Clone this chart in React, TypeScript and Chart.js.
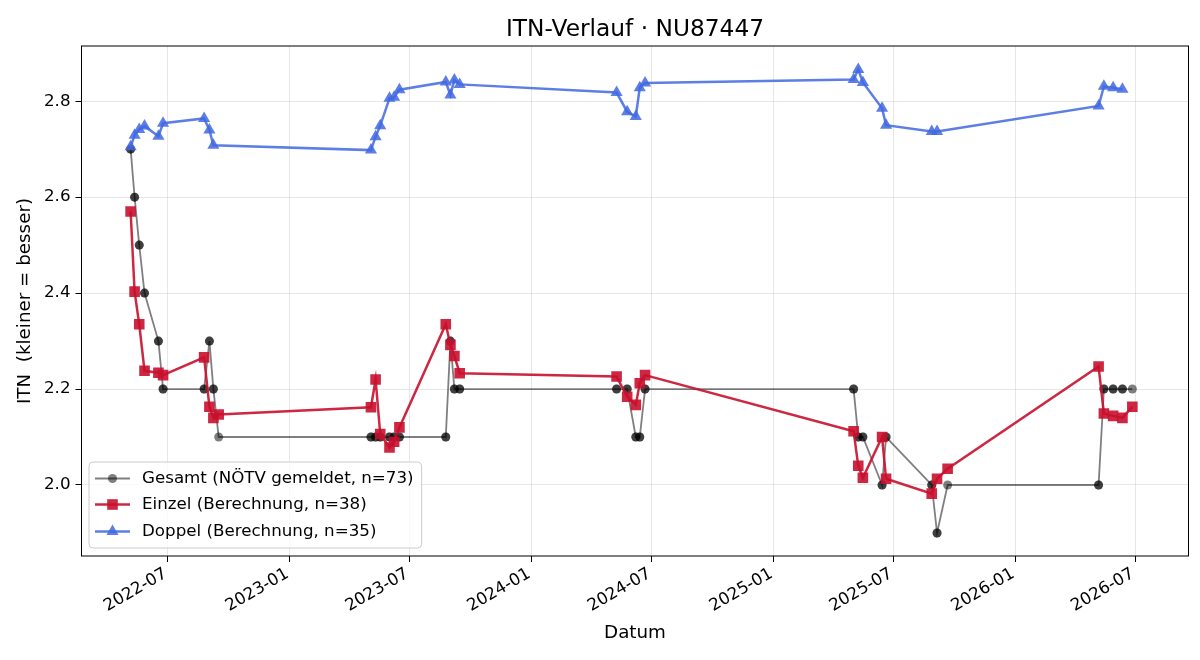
import React, { useEffect, useRef } from 'react';
import { Chart, registerables } from 'chart.js';

Chart.register(...registerables);

// ---------- data ----------
const einzelDates = [
  '2022-05-06', '2022-05-12', '2022-05-19', '2022-05-27', '2022-06-17', '2022-06-24',
  '2022-08-25', '2022-09-02', '2022-09-08', '2022-09-16',
  '2023-05-04', '2023-05-11', '2023-05-18', '2023-06-01', '2023-06-08', '2023-06-16',
  '2023-08-25', '2023-09-01', '2023-09-07', '2023-09-15',
  '2024-05-09', '2024-05-25', '2024-06-07', '2024-06-13', '2024-06-21',
  '2025-05-02', '2025-05-09', '2025-05-16', '2025-06-14', '2025-06-20',
  '2025-08-28', '2025-09-05', '2025-09-21',
  '2026-05-07', '2026-05-15', '2026-05-29', '2026-06-12', '2026-06-27',
];
const einzelValues = [
  2.570, 2.403, 2.335, 2.238, 2.234, 2.229,
  2.266, 2.163, 2.140, 2.147,
  2.162, 2.220, 2.106, 2.078, 2.090, 2.120,
  2.335, 2.292, 2.269, 2.233,
  2.226, 2.184, 2.167, 2.212, 2.229,
  2.112, 2.040, 2.015, 2.100, 2.013,
  1.982, 2.013, 2.034,
  2.247, 2.149, 2.144, 2.140, 2.163,
];

const doppelDates = [
  '2022-05-06', '2022-05-12', '2022-05-19', '2022-05-27', '2022-06-17', '2022-06-24',
  '2022-08-25', '2022-09-02', '2022-09-08',
  '2023-05-04', '2023-05-11', '2023-05-18', '2023-06-01', '2023-06-08', '2023-06-16',
  '2023-08-25', '2023-09-01', '2023-09-07', '2023-09-15',
  '2024-05-09', '2024-05-25', '2024-06-07', '2024-06-13', '2024-06-21',
  '2025-05-02', '2025-05-09', '2025-05-16', '2025-06-14', '2025-06-20',
  '2025-08-28', '2025-09-05',
  '2026-05-07', '2026-05-15', '2026-05-29', '2026-06-12',
];
const doppelValues = [
  2.705, 2.729, 2.741, 2.748, 2.727, 2.754,
  2.764, 2.740, 2.708,
  2.698, 2.726, 2.749, 2.806, 2.808, 2.824,
  2.840, 2.813, 2.844, 2.835,
  2.818, 2.778, 2.768, 2.828, 2.838,
  2.845, 2.866, 2.839, 2.785, 2.750,
  2.737, 2.737,
  2.790, 2.831, 2.828, 2.825,
];

// reported (NÖTV) ITN per match date
const gesamtDates = [
  '2022-05-06', '2022-05-12', '2022-05-19', '2022-05-27', '2022-06-17', '2022-06-24',
  '2022-08-25', '2022-09-02', '2022-09-08', '2022-09-16',
  '2023-05-04', '2023-05-11', '2023-05-18', '2023-06-01', '2023-06-08', '2023-06-16',
  '2023-08-25', '2023-09-01', '2023-09-07', '2023-09-15',
  '2024-05-09', '2024-05-25', '2024-06-07', '2024-06-13', '2024-06-21',
  '2025-05-02', '2025-05-09', '2025-05-16', '2025-06-14', '2025-06-20',
  '2025-08-28', '2025-09-05', '2025-09-21',
  '2026-05-07', '2026-05-15', '2026-05-29', '2026-06-12', '2026-06-27',
];
const gesamtValues = [
  2.7, 2.6, 2.5, 2.4, 2.3, 2.2,
  2.2, 2.3, 2.2, 2.1,
  2.1, 2.1, 2.1, 2.1, 2.1, 2.1,
  2.1, 2.3, 2.2, 2.2,
  2.2, 2.2, 2.1, 2.1, 2.2,
  2.2, 2.1, 2.1, 2.0, 2.1,
  2.0, 1.9, 2.0,
  2.0, 2.2, 2.2, 2.2, 2.2,
];

const xTickDates = [
  '2022-07-01', '2023-01-01', '2023-07-01', '2024-01-01', '2024-07-01',
  '2025-01-01', '2025-07-01', '2026-01-01', '2026-07-01',
];
const yTickValues = [2.0, 2.2, 2.4, 2.6, 2.8];

const seriesLabels = [
  'Gesamt (NÖTV gemeldet, n=73)',
  'Einzel (Berechnung, n=38)',
  'Doppel (Berechnung, n=35)',
];
const titleText = 'ITN-Verlauf · NU87447';
const xTitle = 'Datum';
const yTitle = 'ITN  (kleiner = besser)';

// ---------- helpers ----------
const DAY = 86400000;
const t = (d: string) => Date.parse(d + 'T00:00:00Z');
const fmtMonth = (v: number) => {
  const d = new Date(v);
  return d.getUTCFullYear() + '-' + String(d.getUTCMonth() + 1).padStart(2, '0');
};

const X_MIN = t('2022-07-01') - 130.2 * DAY;
const X_MAX = t('2026-07-01') + 80.8 * DAY;
const Y_MIN = 1.852;
const Y_MAX = 2.915;

const FONT = '"DejaVu Sans", "Liberation Sans", sans-serif';
const TICK_SIZE = 16.7;
const LABEL_SIZE = 18.3;
const TITLE_SIZE = 23.3;

const GRAY = 'rgba(0,0,0,0.5)';
const RED = 'rgba(200,16,46,0.9)';
const BLUE = 'rgba(65,105,225,0.85)';
const TRI_R = 7;

const einzelPoints = einzelDates.map((d, i) => ({ x: t(d), y: einzelValues[i] }));
const doppelPoints = doppelDates.map((d, i) => ({ x: t(d), y: doppelValues[i] }));
// one reported value per played match (Einzel + Doppel) -> 73 entries
const gesamtPoints = [...einzelDates, ...doppelDates]
  .slice()
  .sort()
  .map((d) => ({ x: t(d), y: gesamtValues[gesamtDates.indexOf(d)] }));

const decorPlugin = {
  id: 'decor',
  afterDraw(chart: any) {
    const { ctx, chartArea: a } = chart;
    ctx.save();
    // frame (all four spines)
    ctx.strokeStyle = '#000';
    ctx.lineWidth = 1;
    ctx.strokeRect(a.left, a.top, a.right - a.left, a.bottom - a.top);

    // title
    ctx.fillStyle = '#000';
    ctx.textAlign = 'center';
    ctx.textBaseline = 'alphabetic';
    ctx.font = `${TITLE_SIZE}px ${FONT}`;
    ctx.fillText(titleText, (a.left + a.right) / 2, a.top - 10);

    // axis titles
    ctx.font = `${LABEL_SIZE}px ${FONT}`;
    ctx.textBaseline = 'middle';
    ctx.fillText(xTitle, (a.left + a.right) / 2, 633);
    ctx.save();
    ctx.translate(25, (a.top + a.bottom) / 2);
    ctx.rotate(-Math.PI / 2);
    ctx.fillText(yTitle, 0, 0);
    ctx.restore();

    // legend
    ctx.font = `${TICK_SIZE}px ${FONT}`;
    const maxW = Math.max(...seriesLabels.map((s) => ctx.measureText(s).width));
    const bx = 89, by = 462, bh = 86;
    const textX = 142;
    const bw = textX - bx + maxW + 8;
    const r = 4;
    ctx.beginPath();
    ctx.moveTo(bx + r, by);
    ctx.lineTo(bx + bw - r, by);
    ctx.arcTo(bx + bw, by, bx + bw, by + r, r);
    ctx.lineTo(bx + bw, by + bh - r);
    ctx.arcTo(bx + bw, by + bh, bx + bw - r, by + bh, r);
    ctx.lineTo(bx + r, by + bh);
    ctx.arcTo(bx, by + bh, bx, by + bh - r, r);
    ctx.lineTo(bx, by + r);
    ctx.arcTo(bx, by, bx + r, by, r);
    ctx.closePath();
    ctx.fillStyle = 'rgba(255,255,255,0.8)';
    ctx.fill();
    ctx.strokeStyle = '#cccccc';
    ctx.lineWidth = 1;
    ctx.stroke();

    const rows = [by + 16.5, by + 42.5, by + 69.5];
    const colors = [GRAY, RED, BLUE];
    const widths = [1.8, 2.5, 2.5];
    const x0 = 95, x1 = 130, xm = 112.5;
    rows.forEach((yy, i) => {
      ctx.strokeStyle = colors[i];
      ctx.lineWidth = widths[i];
      ctx.beginPath();
      ctx.moveTo(x0, yy);
      ctx.lineTo(x1, yy);
      ctx.stroke();
      ctx.fillStyle = colors[i];
      ctx.beginPath();
      if (i === 0) {
        ctx.arc(xm, yy, 4.5, 0, Math.PI * 2);
      } else if (i === 1) {
        const s = 7.5 * Math.SQRT1_2;
        ctx.rect(xm - s, yy - s, 2 * s, 2 * s);
      } else {
        const rr = TRI_R;
        ctx.moveTo(xm, yy - rr);
        ctx.lineTo(xm + Math.sin((2 * Math.PI) / 3) * rr, yy + rr / 2);
        ctx.lineTo(xm - Math.sin((2 * Math.PI) / 3) * rr, yy + rr / 2);
        ctx.closePath();
      }
      ctx.fill();
      ctx.fillStyle = '#000';
      ctx.textAlign = 'left';
      ctx.textBaseline = 'middle';
      ctx.fillText(seriesLabels[i], textX, yy);
    });
    ctx.restore();
  },
};

export default function App() {
  const ref = useRef<HTMLCanvasElement | null>(null);

  useEffect(() => {
    document.body.style.margin = '0';
    const canvas = ref.current;
    if (!canvas) return;
    const chart = new Chart(canvas, {
      type: 'line',
      data: {
        datasets: [
          {
            label: seriesLabels[0],
            data: gesamtPoints,
            borderColor: GRAY,
            borderWidth: 1.8,
            pointStyle: 'circle',
            pointRadius: 4.5,
            pointBackgroundColor: GRAY,
            pointBorderWidth: 0,
            tension: 0,
            order: 3,
          },
          {
            label: seriesLabels[1],
            data: einzelPoints,
            borderColor: RED,
            borderWidth: 2.5,
            pointStyle: 'rect',
            pointRadius: 7.5,
            pointBackgroundColor: RED,
            pointBorderWidth: 0,
            tension: 0,
            order: 2,
          },
          {
            label: seriesLabels[2],
            data: doppelPoints,
            borderColor: BLUE,
            borderWidth: 2.5,
            pointStyle: 'triangle',
            pointRadius: TRI_R,
            pointBackgroundColor: BLUE,
            pointBorderWidth: 0,
            tension: 0,
            order: 1,
          },
        ],
      },
      options: {
        animation: false,
        responsive: false,
        events: [],
        layout: { padding: { top: 46, right: 11.5, left: 0, bottom: 0 } },
        plugins: {
          legend: { display: false },
          tooltip: { enabled: false },
          title: { display: false },
        },
        scales: {
          x: {
            type: 'linear',
            min: X_MIN,
            max: X_MAX,
            afterBuildTicks: (s: any) => {
              s.ticks = xTickDates.map((d) => ({ value: t(d) }));
            },
            afterFit: (s: any) => {
              s.height = 104;
              s.paddingLeft = 0;
              s.paddingRight = 0;
            },
            grid: {
              color: 'rgba(176,176,176,0.3)',
              lineWidth: 1,
              tickColor: '#000',
              tickLength: 6,
              drawTicks: true,
            },
            border: { display: false },
            ticks: {
              autoSkip: false,
              minRotation: 30,
              maxRotation: 30,
              padding: 2,
              labelOffset: -2,
              color: '#000',
              font: { family: FONT, size: TICK_SIZE },
              callback: (v: any) => fmtMonth(Number(v)),
            },
          },
          y: {
            type: 'linear',
            min: Y_MIN,
            max: Y_MAX,
            afterBuildTicks: (s: any) => {
              s.ticks = yTickValues.map((v) => ({ value: v }));
            },
            afterFit: (s: any) => {
              s.width = 81.5;
              s.paddingTop = 0;
              s.paddingBottom = 0;
            },
            grid: {
              color: 'rgba(176,176,176,0.3)',
              lineWidth: 1,
              tickColor: '#000',
              tickLength: 6,
              drawTicks: true,
            },
            border: { display: false },
            ticks: {
              padding: 5,
              color: '#000',
              font: { family: FONT, size: TICK_SIZE },
              callback: (v: any) => Number(v).toFixed(1),
            },
          },
        },
      },
      plugins: [decorPlugin],
    } as any);
    return () => chart.destroy();
  }, []);

  return (
    <div style={{ position: 'absolute', left: 0, top: 0, width: 1200, height: 660 }}>
      <canvas ref={ref} width={1200} height={660} style={{ width: 1200, height: 660, display: 'block' }} />
    </div>
  );
}
